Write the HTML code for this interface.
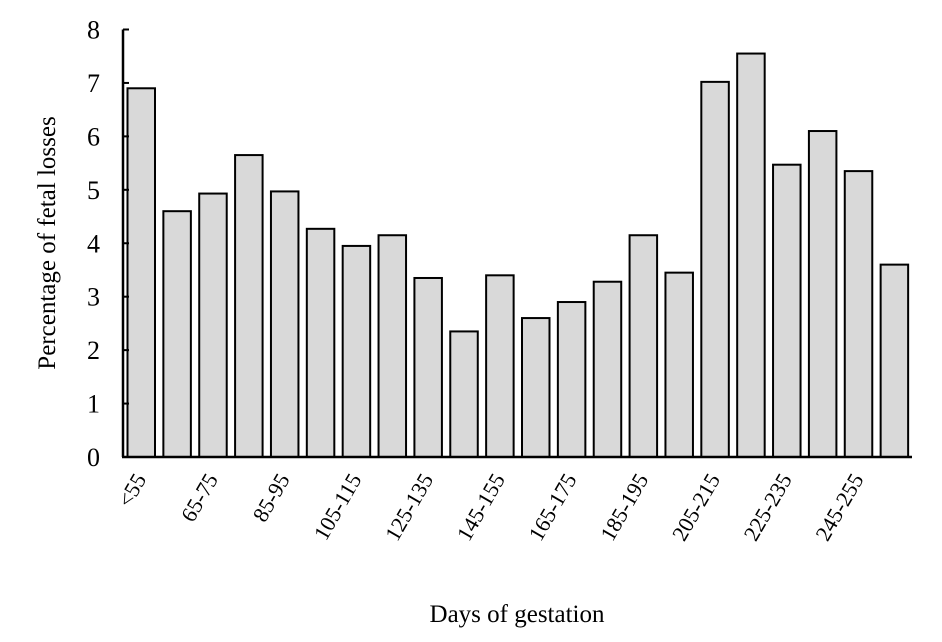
<!DOCTYPE html>
<html><head><meta charset="utf-8"><style>
body{margin:0;background:#fff}
svg text{font-family:"Liberation Serif",serif;fill:#000}
</style></head><body>
<svg id="chart" width="942" height="637" xmlns="http://www.w3.org/2000/svg">
<g id="bars"></g>
<g id="axes"></g>
<text transform="translate(55,243) rotate(-90)" text-anchor="middle" font-size="25">Percentage of fetal losses</text>
<text x="517" y="622" text-anchor="middle" font-size="25">Days of gestation</text>
</svg>
<script>
const categories=["<55","55-65","65-75","75-85","85-95","95-105","105-115","115-125","125-135","135-145","145-155","155-165","165-175","175-185","185-195","195-205","205-215","215-225","225-235","235-245","245-255",">255"];
const values=[6.9,4.6,4.93,5.65,4.97,4.27,3.95,4.15,3.35,2.35,3.4,2.6,2.9,3.28,4.15,3.45,7.02,7.55,5.47,6.1,5.35,3.6];
const yTicks=[0,1,2,3,4,5,6,7,8];
const NS="http://www.w3.org/2000/svg";
const x0=123,x1=912,y0=457,y8=29.5;
const slot=(x1-x0)/categories.length;
const yScale=v=>y0-(v/8)*(y0-y8);
const xScale=i=>x0+i*slot;
const bars=document.getElementById('bars'),axes=document.getElementById('axes');
function mk(t,a){const e=document.createElementNS(NS,t);for(const k in a)e.setAttribute(k,a[k]);return e;}
values.forEach((v,i)=>{
  const r=mk('rect',{x:xScale(i)+4.5,y:yScale(v),width:27.5,height:y0-yScale(v),fill:'#d9d9d9',stroke:'#000','stroke-width':2});
  
  
  bars.appendChild(r);
});
const ya=mk('line',{x1:x0,y1:y8,x2:x0,y2:y0,stroke:'#000','stroke-width':2.5});


axes.appendChild(ya);
const xa=mk('line',{x1:x0-1,y1:y0,x2:x1,y2:y0,stroke:'#000','stroke-width':2.5});


axes.appendChild(xa);
yTicks.forEach(t=>{
  const y=yScale(t);
  axes.appendChild(mk('line',{x1:x0,y1:y,x2:x0+6,y2:y,stroke:'#000','stroke-width':2}));
  const tx=mk('text',{x:100,y:y+9,'text-anchor':'end','font-size':26});
  tx.textContent=t;
  
  
  axes.appendChild(tx);
});
categories.forEach((c,i)=>{
  if(i%2)return;
  const cx=xScale(i)+slot/2+6,cy=y0+22;
  const tx=mk('text',{x:cx,y:cy,'text-anchor':'end','font-size':22,transform:`rotate(-60 ${cx} ${cy})`});
  tx.textContent=c;
  
  
  axes.appendChild(tx);
});
</script>
</body></html>
